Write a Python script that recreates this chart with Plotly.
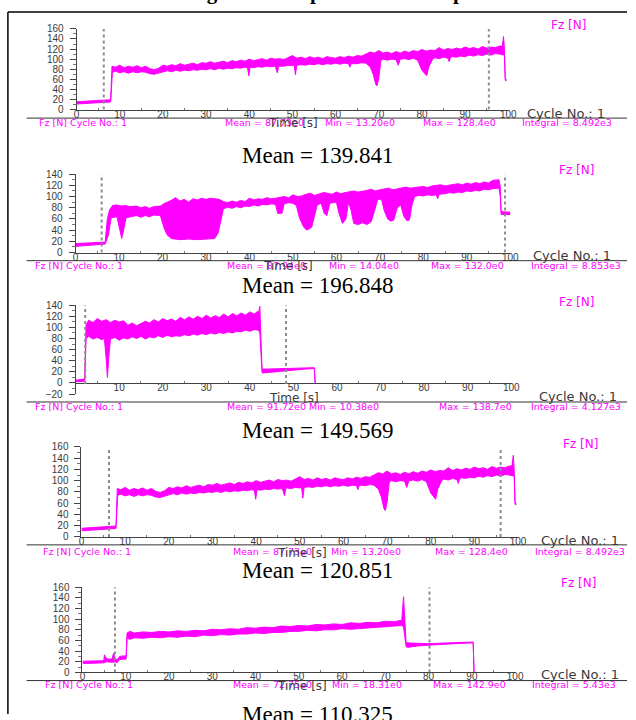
import plotly.graph_objects as go

W, H = 636, 720

# ---------------- DATA ----------------
# Panel 1 and panel 4 show the same recording (Fz [N] vs time [s]); noisy band = upper/lower envelope
p1_t_up = [0, 2, 4, 6, 7.9, 8.2] + list(range(9, 99)) + [98.6, 98.9, 99.1, 99.3, 99.5]
p1_f_up = [15.5, 16.5, 17, 18, 19.5, 86,
           84, 88, 83, 86, 84, 87, 83, 86, 81, 79, 82, 88, 86, 89, 87, 91, 88, 90, 92, 89, 93, 92, 95, 92,
           94, 96, 93, 97, 95, 98, 96, 100, 97, 99, 101, 98, 102, 100, 101, 99, 103, 107, 102, 104, 101, 105,
           102, 104, 101, 105, 103, 102, 105, 103, 106, 104, 107, 106, 110, 114, 112, 117, 112, 114, 111, 115,
           112, 116, 113, 117, 115, 119, 116, 118, 117, 123, 118, 121, 119, 122, 120, 124, 121, 123, 120, 125,
           122, 124, 123, 126,
           126, 145, 121, 62, 60]
p1_t_lo = [0, 2, 4, 6, 7.9, 8.3, 9, 10, 11, 12, 13, 14, 15, 16, 17, 18, 19, 20, 21, 22, 23, 24, 25, 26, 27, 28, 29,
           30, 31, 32, 33, 34, 35, 36, 37, 38, 39, 39.6, 39.9, 40.2, 41, 42, 43, 44, 45, 46, 46.5, 46.8, 47, 48, 49,
           50, 50.4, 50.7, 51.0, 52, 53, 54, 55, 56, 57, 58, 59, 60, 61, 62, 63, 63.3, 63.6, 64, 65, 66, 67, 68,
           68.7, 69.3, 69.6, 70.0, 70.5, 71, 72, 73, 74, 74.5, 75, 76, 77, 78, 79, 80, 80.6, 81.1, 81.6, 82.5, 83,
           84, 85, 86, 86.3, 86.6, 87, 88, 89, 90, 91, 92, 93, 94, 95, 96, 97, 98, 99.1, 99.3, 99.5]
p1_f_lo = [11, 12, 13, 14, 15, 74, 76, 73, 75, 72, 75, 73, 75, 74, 71, 70, 72, 75, 77, 75, 78, 76, 78, 77, 79, 78,
           80, 79, 81, 79, 82, 80, 82, 81, 83, 82, 84, 83, 67, 84, 83, 85, 84, 86, 85, 86, 73, 86, 87, 86, 88, 87,
           88, 69, 88, 89, 88, 90, 89, 91, 89, 91, 90, 92, 90, 92, 91, 84, 91, 92, 91, 93, 92, 85, 70, 50, 47, 62,
           98, 100, 98, 100, 99, 88, 100, 101, 99, 102, 98, 78, 72, 67, 85, 100, 103, 101, 104, 102, 95, 103, 105,
           104, 106, 105, 108, 106, 109, 107, 110, 108, 111, 110, 108, 58, 57]

# Panel 2
p2_t_up = [0, 2, 4, 6, 6.8, 7.3, 7.8, 8.5, 9.5, 10.5, 11.5, 12.5, 14, 15, 16, 17, 18, 19.5, 20.5, 22, 23, 24, 25,
           26, 27, 28, 29, 30, 31, 32, 33, 34, 35, 36, 37, 38, 39, 40, 41, 42, 43, 44, 45, 46, 47, 48, 49, 50, 51,
           52, 53, 54, 55, 56, 57, 58, 59, 60, 61, 62, 63, 64, 65, 66, 67, 68, 69, 70, 71, 72, 73, 74, 75, 76, 77,
           78, 79, 80, 81, 82, 83, 84, 85, 86, 87, 88, 89, 90, 91, 92, 93, 94, 95, 96, 97.4, 97.7, 97.9, 99.5, 100]
p2_f_up = [16, 16.5, 17, 18, 18.5, 60, 76, 84, 85, 83, 84, 82, 83, 80, 82, 79, 82, 83, 88, 93, 98, 92, 95, 90, 96,
           94, 97, 95, 97, 96, 95, 91, 89, 92, 90, 93, 91, 97, 94, 96, 95, 98, 96, 97, 99, 100, 98, 103, 100, 101,
           104, 106, 102, 104, 107, 106, 104, 108, 105, 107, 109, 110, 108, 109, 111, 113, 110, 112, 114, 115, 112,
           114, 116, 117, 115, 116, 118, 118, 116, 119, 120, 121, 119, 120, 122, 123, 121, 124, 122, 125, 123, 126,
           124, 129, 130, 118, 73, 72, 72]
p2_t_lo = [0, 2, 4, 6, 6.8, 7.5, 8.2, 9.5, 10.2, 10.6, 11.0, 11.6, 13, 14, 15, 16, 17, 18, 19.5, 20.3, 21, 22, 24,
           26, 28, 30, 32, 32.8, 33.5, 34, 35, 36, 37, 38, 39, 40, 41, 42, 43, 44, 45, 46, 46.5, 47.5, 48, 49, 50,
           50.8, 51.5, 52.5, 53.2, 54.3, 55, 55.6, 56.5, 57.2, 57.8, 58.5, 60, 60.6, 61.4, 62.2, 62.8, 63.4, 64,
           65, 66, 67, 68, 68.8, 69.5, 70.4, 71, 71.8, 72.5, 73.2, 74, 74.8, 75.5, 76.2, 76.8, 77.4, 78, 79, 80,
           81, 82, 83, 83.3, 83.6, 85, 86, 87, 88, 89, 90, 91, 92, 93, 94, 95, 96, 97.4, 97.7, 97.9, 99.5, 100]
p2_f_lo = [11, 12, 13, 14.5, 15, 30, 62, 64, 40, 25, 38, 62, 64, 66, 63, 66, 64, 67, 66, 45, 32, 25, 23, 24, 23, 24,
           25, 35, 60, 78, 81, 79, 82, 80, 83, 82, 85, 83, 86, 85, 87, 86, 70, 70, 87, 89, 88, 84, 62, 45, 40, 45,
           65, 85, 88, 70, 66, 88, 90, 70, 52, 60, 90, 75, 52, 50, 53, 50, 55, 75, 95, 95, 75, 60, 56, 58, 80, 85,
           65, 57, 58, 85, 100, 102, 101, 103, 102, 103, 96, 104, 105, 107, 106, 108, 107, 110, 109, 111, 110,
           113, 112, 114, 115, 100, 68, 68, 68]

# Panel 3
p3_t_up = [0, 1, 2.1, 2.4, 3, 4, 5, 6, 7, 8, 9, 10, 11, 12, 13, 14, 15, 16, 17, 18, 19, 20, 21, 22, 23, 24, 25, 26,
           27, 28, 29, 30, 31, 32, 33, 34, 35, 36, 37, 38, 39, 40, 41, 41.8, 42.0, 42.3, 42.5, 42.8, 44, 46, 48,
           50, 52, 54.8, 55]
p3_f_up = [5, 6, 7, 105, 113, 109, 116, 111, 114, 109, 113, 110, 112, 104, 108, 103, 107, 111, 108, 114, 110, 116,
           112, 115, 111, 118, 114, 119, 115, 120, 116, 122, 117, 121, 118, 124, 119, 125, 121, 126, 122, 128, 124,
           129, 126, 138, 90, 25, 25, 25.5, 25, 25.5, 26, 27.5, 0]
p3_t_lo = [0, 1, 2.1, 2.4, 3, 4, 5, 6, 6.6, 7.0, 7.3, 7.6, 8.0, 9, 10, 11, 12, 13, 14, 15, 16, 17, 18, 19, 20, 21,
           22, 23, 24, 25, 26, 27, 28, 29, 30, 31, 32, 33, 34, 35, 36, 37, 38, 39, 40, 41, 42.0, 42.3, 42.8, 44,
           46, 48, 50, 52, 54.8, 55]
p3_f_lo = [2, 2.5, 3, 80, 84, 79, 82, 78, 80, 45, 10, 45, 79, 82, 77, 81, 79, 83, 80, 84, 79, 83, 81, 85, 82, 86,
           83, 85, 84, 87, 85, 88, 86, 89, 87, 90, 88, 91, 89, 92, 90, 93, 92, 95, 93, 96, 95, 90, 18, 19, 20,
           21.5, 23.5, 24.5, 26, 0]

# Panel 5
p5_t_up = [0, 2, 4, 4.9, 5.1, 5.5, 6, 6.8, 7.2, 7.5, 8, 8.6, 9.5, 10.1, 10.3, 11, 12, 14, 16, 18, 20, 22, 24, 26,
           28, 30, 32, 34, 36, 38, 40, 42, 44, 46, 48, 50, 52, 54, 56, 58, 60, 62, 64, 66, 68, 70, 72, 73.8, 74.2,
           74.5, 74.8, 76, 78, 80, 85, 90.3, 90.5]
p5_f_up = [21, 21.5, 22, 22, 33, 26, 25, 25, 36, 26, 24, 30, 31, 31, 74, 77, 74, 76, 75, 77, 76, 78, 77, 79, 78, 81,
           80, 82, 81, 84, 83, 85, 84, 87, 86, 88, 87, 90, 89, 91, 90, 93, 92, 94, 93, 96, 95, 98, 142, 100, 56,
           55, 54, 54, 55.5, 57, 0]
p5_t_lo = [0, 2, 4, 5, 5.5, 6, 7, 7.5, 8, 8.6, 9.5, 10.1, 10.3, 11, 12, 14, 16, 18, 20, 22, 24, 26, 28, 30, 32, 34,
           36, 38, 40, 42, 44, 46, 48, 50, 52, 54, 56, 58, 60, 62, 64, 66, 68, 70, 72, 73.8, 74.2, 74.8, 75.2, 76,
           78, 80, 85, 90.3, 90.5]
p5_f_lo = [17, 17, 17.5, 18, 20, 20, 19, 20, 18, 24, 25, 25, 64, 62, 65, 64, 66, 65, 67, 66, 68, 67, 70, 69, 71, 70,
           72, 72, 74, 73, 75, 75, 77, 77, 79, 78, 80, 80, 82, 81, 83, 83, 85, 85, 87, 88, 85, 48, 47, 48, 50, 51.5,
           53.5, 55.5, 0]

# dotted cycle markers [s]
p1_marks = [6.3, 95.5]
p2_marks = [6.0, 98.8]
p3_marks = [2.2, 48.3]
p4_marks = [6.3, 96.0]
p5_marks = [7.5, 80.2]

x_ticks = [0, 10, 20, 30, 40, 50, 60, 70, 80, 90, 100]
p3_x_ticks = [10, 20, 30, 40, 50, 60, 70, 80, 90, 100]

# text
title = "Figure 32: Experimental Setup"
captions = ["Mean = 139.841", "Mean = 196.848", "Mean = 149.569", "Mean = 120.851", "Mean = 110.325"]
info_texts = [
    ["Fz [N] Cycle No.: 1", "Mean = 87.73e0", "Min = 13.20e0", "Max = 128.4e0", "Integral = 8.492e3"],
    ["Fz [N] Cycle No.: 1", "Mean = 87.94e0", "Min = 14.04e0", "Max = 132.0e0", "Integral = 8.853e3"],
    ["Fz [N] Cycle No.: 1", "Mean = 91.72e0 Min = 10.38e0", "", "Max = 138.7e0", "Integral = 4.127e3"],
    ["Fz [N] Cycle No.: 1", "Mean = 87.73e0", "Min = 13.20e0", "Max = 128.4e0", "Integral = 8.492e3"],
    ["Fz [N] Cycle No.: 1", "Mean = 72.75e0", "Min = 18.31e0", "Max = 142.9e0", "Integral = 5.43e3"],
]

# ---------------- LAYOUT GEOMETRY (pixels) ----------------
panels = [
    dict(t_up=p1_t_up, f_up=p1_f_up, t_lo=p1_t_lo, f_lo=p1_f_lo, marks=p1_marks, x0=75, x1=515, ytop=23.3,
         ybot=105.3, yr=[0, 160], xaxis_y=None, xt=x_ticks, fz=(556, 19), cyc=(532, 109), sep=114, info=118.5,
         infox=[35, 224, 326, 426, 527], time=(296, 119), cap=152),
    dict(t_up=p2_t_up, f_up=p2_f_up, t_lo=p2_t_lo, f_lo=p2_f_lo, marks=p2_marks, x0=74, x1=517, ytop=171,
         ybot=250.7, yr=[0, 140], xaxis_y=None, xt=x_ticks, fz=(565, 167), cyc=(538, 254), sep=259, info=264,
         infox=[31, 226, 330, 434, 536], time=(290, 264), cap=284),
    dict(t_up=p3_t_up, f_up=p3_f_up, t_lo=p3_t_lo, f_lo=p3_f_lo, marks=p3_marks, x0=74, x1=518, ytop=304.3,
         ybot=394.6, yr=[-20, 140], xaxis_y=383.3, xt=p3_x_ticks, fz=(565, 301), cyc=(544, 397), sep=402.7,
         info=407.3, infox=[31, 226, 330, 442, 536], time=(297, 399), cap=432),
    dict(t_up=p1_t_up, f_up=p1_f_up, t_lo=p1_t_lo, f_lo=p1_f_lo, marks=p4_marks, x0=80, x1=525, ytop=448.3,
         ybot=540, yr=[0, 160], xaxis_y=None, xt=x_ticks, fz=(569, 445), cyc=(546, 544), sep=548, info=555,
         infox=[39, 232, 332, 438, 540], time=(305, 556), cap=574),
    dict(t_up=p5_t_up, f_up=p5_f_up, t_lo=p5_t_lo, f_lo=p5_f_lo, marks=p5_marks, x0=81, x1=522, ytop=591,
         ybot=677.7, yr=[0, 160], xaxis_y=None, xt=x_ticks, fz=(567, 587), cyc=(546, 680), sep=686, info=690.5,
         infox=[41, 232, 333, 436, 537], time=(305, 692), cap=720),
]

MAG = "#ff00ff"
AX = "#444444"
TXT = "#3a3a3a"


def fx(px):
    return px / W


def fy(py):
    return 1 - py / H


fig = go.Figure()
annotations = []
shapes = []
layout_axes = {}

for i, p in enumerate(panels, start=1):
    sx = "" if i == 1 else str(i)
    xref, yref = "x" + sx, "y" + sx
    # signal band
    xs = list(p["t_up"]) + list(p["t_lo"])[::-1]
    ys = list(p["f_up"]) + list(p["f_lo"])[::-1]
    fig.add_trace(go.Scatter(x=xs, y=ys, mode="lines", fill="toself", fillcolor=MAG,
                             line=dict(color=MAG, width=1), xaxis=xref, yaxis=yref,
                             hoverinfo="skip", showlegend=False))
    ymin, ymax = p["yr"]
    xa = dict(domain=[fx(p["x0"]), fx(p["x1"])], range=[0, 100], showline=True, linecolor=AX, linewidth=1,
              showgrid=False, zeroline=False, tickmode="array", tickvals=p["xt"],
              ticktext=[str(v) for v in p["xt"]], ticks="", ticklabelstandoff=-5,
              tickfont=dict(family="Liberation Sans", size=10, color=TXT),
              minor=dict(tickmode="array", tickvals=[5, 15, 25, 35, 45, 55, 65, 75, 85, 95], ticks="inside",
                         ticklen=2, tickcolor="#777777"),
              fixedrange=True)
    if p["xaxis_y"] is None:
        xa["anchor"] = yref
    else:
        xa["anchor"] = "free"
        xa["position"] = fy(p["xaxis_y"])
    ya = dict(domain=[fy(p["ybot"]), fy(p["ytop"])], range=[ymin, ymax], anchor=xref, showline=True,
              linecolor=AX, linewidth=1, showgrid=False, zeroline=False, tick0=0, dtick=20, ticks="outside",
              ticklen=6, tickcolor=AX, ticklabelstandoff=4,
              tickfont=dict(family="Liberation Sans", size=10, color=TXT),
              minor=dict(dtick=10, ticks="outside", ticklen=3, tickcolor="#777777"), fixedrange=True)
    layout_axes["xaxis" + sx] = xa
    layout_axes["yaxis" + sx] = ya

    # dotted cycle markers
    for m in p["marks"]:
        shapes.append(dict(type="line", xref=xref, yref=yref, x0=m, x1=m,
                           y0=(-2 if ymin < 0 else 0), y1=ymax,
                           line=dict(color="#8c8c8c", width=2, dash="dot")))
    # separator line
    shapes.append(dict(type="line", xref="paper", yref="paper", x0=fx(24), x1=1.0, y0=fy(p["sep"]),
                       y1=fy(p["sep"]), line=dict(color="#333333", width=1)))
    # Fz [N] label
    annotations.append(dict(text="Fz [N]", x=fx(p["fz"][0]), y=fy(p["fz"][1]), xref="paper", yref="paper",
                            xanchor="left", yanchor="middle", showarrow=False,
                            font=dict(family="DejaVu Sans", size=12, color=MAG)))
    # Cycle No.
    annotations.append(dict(text="Cycle No.: 1", x=fx(p["cyc"][0]), y=fy(p["cyc"][1]), xref="paper",
                            yref="paper", xanchor="left", yanchor="middle", showarrow=False,
                            font=dict(family="DejaVu Sans", size=13, color=TXT)))
    # info line
    for txt, xpx in zip(info_texts[i - 1], p["infox"]):
        if not txt:
            continue
        annotations.append(dict(text=txt, x=fx(xpx), y=fy(p["info"]), xref="paper", yref="paper",
                                xanchor="left", yanchor="middle", showarrow=False,
                                font=dict(family="DejaVu Sans", size=9.5, color=MAG)))
    # Time [s]
    annotations.append(dict(text="Time [s]", x=fx(p["time"][0]), y=fy(p["time"][1]), xref="paper",
                            yref="paper", xanchor="center", yanchor="middle", showarrow=False,
                            font=dict(family="DejaVu Sans", size=12, color=TXT)))
    # caption
    annotations.append(dict(text=captions[i - 1], x=fx(321), y=fy(p["cap"]), xref="paper", yref="paper",
                            xanchor="center", yanchor="middle", showarrow=False,
                            font=dict(family="Liberation Serif", size=23, color="#000000")))

# figure title (cut off at the top)
annotations.append(dict(text="<b>" + title + "</b>", x=fx(330), y=fy(-14), xref="paper", yref="paper",
                        xanchor="center", yanchor="middle", showarrow=False,
                        font=dict(family="Liberation Serif", size=21, color="#000000")))

# page frame
shapes.append(dict(type="line", xref="paper", yref="paper", x0=fx(5), x1=1.0, y0=fy(6), y1=fy(6),
                   line=dict(color="#000000", width=1.5)))
shapes.append(dict(type="line", xref="paper", yref="paper", x0=fx(5), x1=fx(5), y0=fy(6), y1=0,
                   line=dict(color="#000000", width=1.5)))

fig.update_layout(width=W, height=H, margin=dict(l=0, r=0, t=0, b=0), paper_bgcolor="white",
                  plot_bgcolor="white", showlegend=False, annotations=annotations, shapes=shapes,
                  **layout_axes)

fig.write_html("out.html", config=dict(displayModeBar=False),
               post_script="document.body.style.margin='0px';document.body.style.overflow='hidden';")
